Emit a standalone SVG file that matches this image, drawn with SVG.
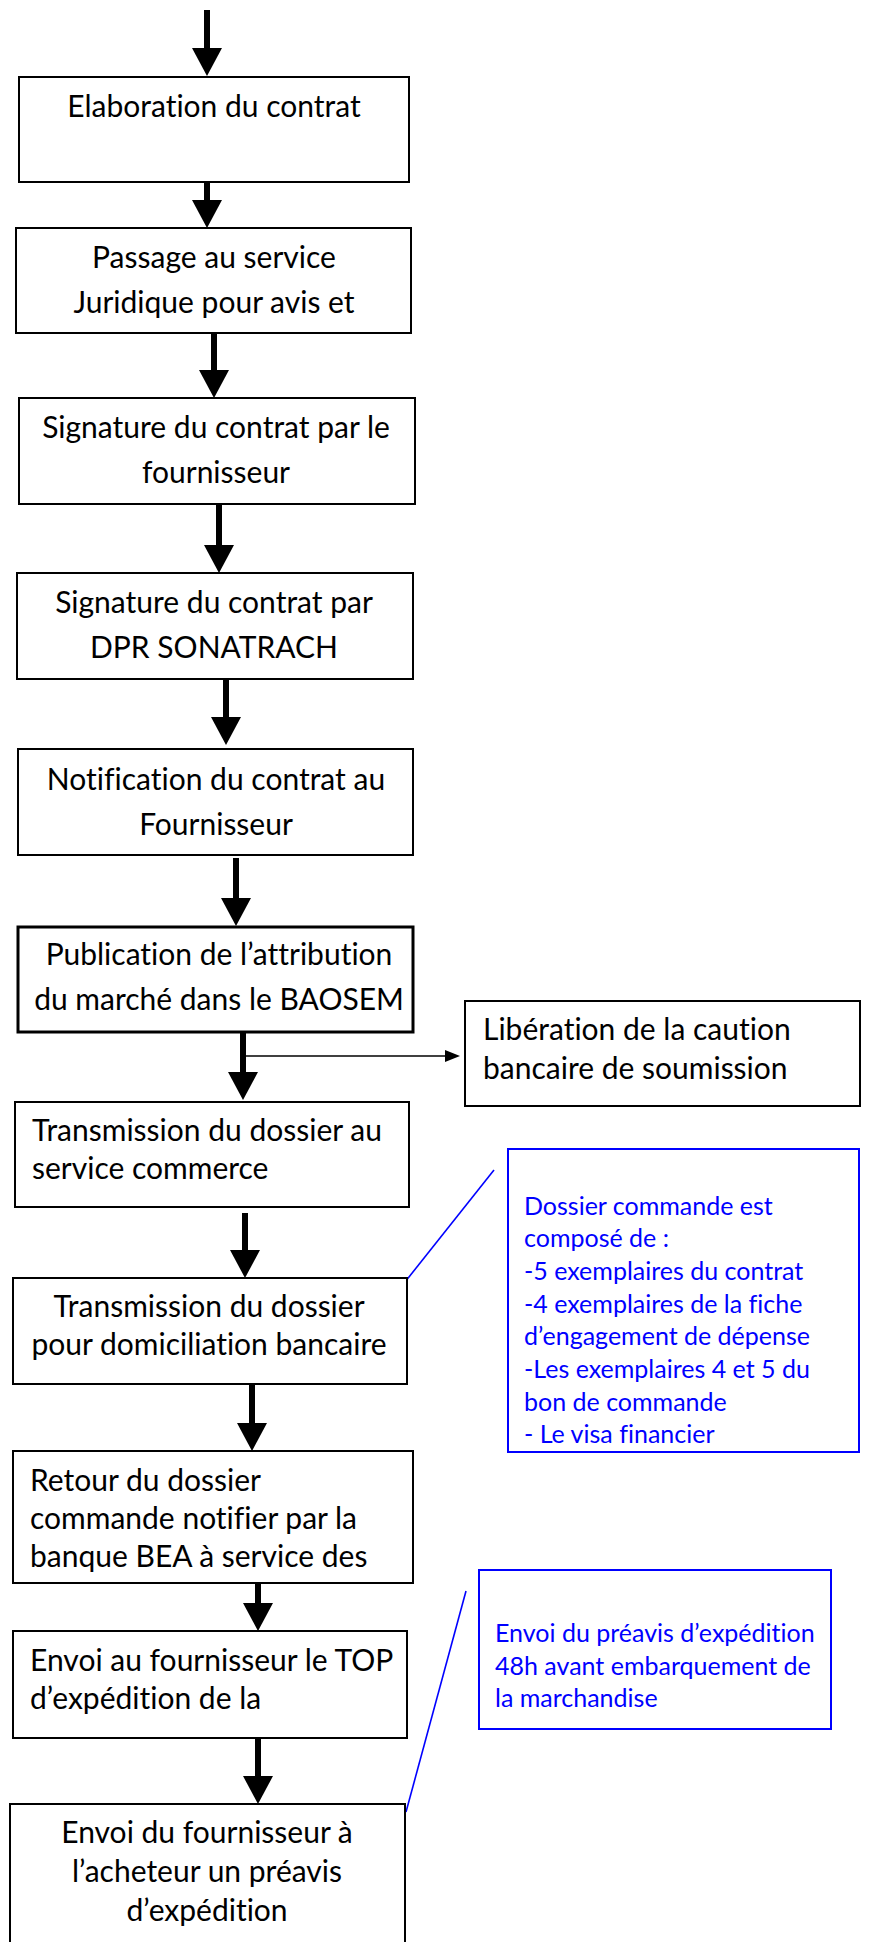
<svg xmlns="http://www.w3.org/2000/svg" width="870" height="1942" viewBox="0 0 870 1942">
  <style>
    .box { fill: #ffffff; stroke: #000000; stroke-width: 2; }
    .box-thick { stroke-width: 3; }
    .note { fill: #ffffff; stroke: #0000ff; stroke-width: 2; }
    text { font-variant-ligatures: none; }
    .lbl { font-family: Lato, "Open Sans", "Liberation Sans", sans-serif; font-size: 30px; fill: #000000; }
    .mid { text-anchor: middle; }
    .ntxt { font-family: Lato, "Open Sans", "Liberation Sans", sans-serif; font-size: 25px; fill: #0000ff; }
    .flow { stroke: #000000; stroke-width: 6; fill: none; marker-end: url(#head); }
    .side { stroke: #000000; stroke-width: 1.5; fill: none; marker-end: url(#headSmall); }
    .callout { stroke: #0000ff; stroke-width: 1.6; fill: none; }
  </style>
  <defs>
    <marker id="head" markerUnits="userSpaceOnUse" viewBox="0 0 28 30" markerWidth="28" markerHeight="30" refX="0" refY="15" orient="auto">
      <path d="M0,0 L28,15 L0,30 z" fill="#000000"/>
    </marker>
    <marker id="headSmall" markerUnits="userSpaceOnUse" viewBox="0 0 15 12" markerWidth="15" markerHeight="12" refX="0" refY="6" orient="auto">
      <path d="M0,0 L15,6 L0,12 z" fill="#000000"/>
    </marker>
  </defs>

  <g id="connectors">
    <path class="flow" d="M207,10 V48"/>
    <path class="flow" d="M207,182 V200"/>
    <path class="flow" d="M214,333 V370"/>
    <path class="flow" d="M219,504 V545"/>
    <path class="flow" d="M226,679 V717"/>
    <path class="flow" d="M236,858 V898"/>
    <path class="flow" d="M243,1032 V1072"/>
    <path class="flow" d="M245,1213 V1250"/>
    <path class="flow" d="M252,1384 V1423"/>
    <path class="flow" d="M258,1570 V1603"/>
    <path class="flow" d="M258,1738 V1776"/>
    <path class="side" d="M243,1056 H445"/>
    <path class="callout" d="M405,1282 L494,1170"/>
    <path class="callout" d="M406,1812 L466,1591"/>
  </g>

  <g id="elaboration">
    <rect class="box" x="19" y="77" width="390" height="105"/>
    <text class="lbl mid" x="214" y="117">Elaboration du contrat</text>
  </g>

  <g id="juridique">
    <rect class="box" x="16" y="228" width="395" height="105"/>
    <text class="lbl mid" x="214" y="268">Passage au service</text>
    <text class="lbl mid" x="214" y="313">Juridique pour avis et</text>
  </g>

  <g id="signature-fournisseur">
    <rect class="box" x="19" y="398" width="396" height="106"/>
    <text class="lbl mid" x="216" y="438">Signature du contrat par le</text>
    <text class="lbl mid" x="216" y="483">fournisseur</text>
  </g>

  <g id="signature-dpr">
    <rect class="box" x="17" y="573" width="396" height="106"/>
    <text class="lbl mid" x="214" y="613">Signature du contrat par</text>
    <text class="lbl mid" x="214" y="658">DPR SONATRACH</text>
  </g>

  <g id="notification">
    <rect class="box" x="18" y="749" width="395" height="106"/>
    <text class="lbl mid" x="216" y="790">Notification du contrat au</text>
    <text class="lbl mid" x="216" y="835">Fournisseur</text>
  </g>

  <g id="publication">
    <rect class="box box-thick" x="18" y="927" width="395" height="105"/>
    <text class="lbl mid" x="219" y="965">Publication de l’attribution</text>
    <text class="lbl mid" x="219" y="1010">du marché dans le BAOSEM</text>
  </g>

  <g id="liberation">
    <rect class="box" x="465" y="1001" width="395" height="105"/>
    <text class="lbl" x="483" y="1040">Libération de la caution</text>
    <text class="lbl" x="483" y="1079">bancaire de soumission</text>
  </g>

  <g id="transmission-commerce">
    <rect class="box" x="15" y="1102" width="394" height="105"/>
    <text class="lbl" x="32" y="1141">Transmission du dossier au</text>
    <text class="lbl" x="32" y="1179">service commerce</text>
  </g>

  <g id="domiciliation">
    <rect class="box" x="13" y="1278" width="394" height="106"/>
    <text class="lbl mid" x="209" y="1317">Transmission du dossier</text>
    <text class="lbl mid" x="209" y="1355">pour domiciliation bancaire</text>
  </g>

  <g id="note-dossier">
    <rect class="note" x="508" y="1149" width="351" height="303"/>
    <text class="ntxt" x="524" y="1215">Dossier commande est</text>
    <text class="ntxt" x="524" y="1247">composé de :</text>
    <text class="ntxt" x="524" y="1280">-5 exemplaires du contrat</text>
    <text class="ntxt" x="524" y="1313">-4 exemplaires de la fiche</text>
    <text class="ntxt" x="524" y="1345">d’engagement de dépense</text>
    <text class="ntxt" x="524" y="1378">-Les exemplaires 4 et 5 du</text>
    <text class="ntxt" x="524" y="1411">bon de commande</text>
    <text class="ntxt" x="524" y="1443">- Le visa financier</text>
  </g>

  <g id="retour-dossier">
    <rect class="box" x="13" y="1451" width="400" height="132"/>
    <text class="lbl" x="30" y="1491">Retour du dossier</text>
    <text class="lbl" x="30" y="1529">commande notifier par la</text>
    <text class="lbl" x="30" y="1567">banque BEA à service des</text>
  </g>

  <g id="envoi-top">
    <rect class="box" x="13" y="1631" width="394" height="107"/>
    <text class="lbl" x="30" y="1671">Envoi au fournisseur le TOP</text>
    <text class="lbl" x="30" y="1709">d’expédition de la</text>
  </g>

  <g id="note-preavis">
    <rect class="note" x="479" y="1570" width="352" height="159"/>
    <text class="ntxt" x="495" y="1642">Envoi du préavis d’expédition</text>
    <text class="ntxt" x="495" y="1675">48h avant embarquement de</text>
    <text class="ntxt" x="495" y="1707">la marchandise</text>
  </g>

  <g id="preavis-acheteur">
    <rect class="box" x="10" y="1804" width="395" height="160"/>
    <text class="lbl mid" x="207" y="1843">Envoi du fournisseur à</text>
    <text class="lbl mid" x="207" y="1882">l’acheteur un préavis</text>
    <text class="lbl mid" x="207" y="1921">d’expédition</text>
  </g>
</svg>
